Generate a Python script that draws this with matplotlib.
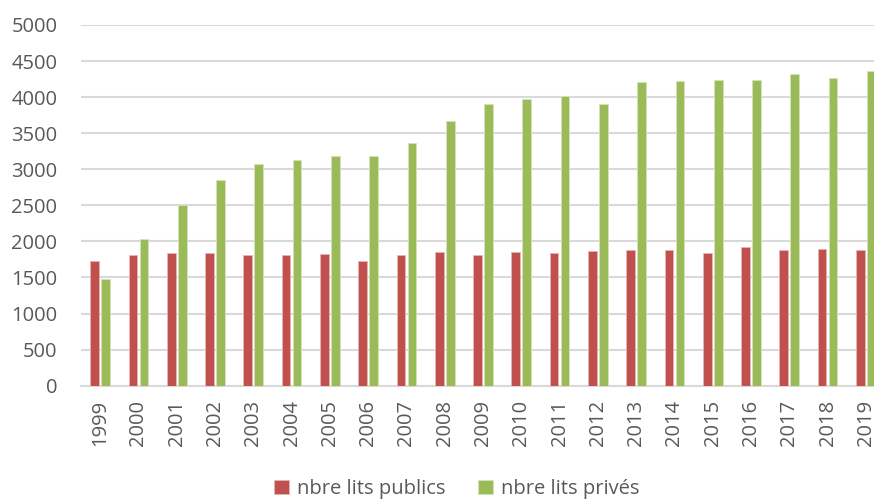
import numpy as np
import matplotlib
matplotlib.use("Agg")
import matplotlib.pyplot as plt

plt.rcParams['font.family'] = ['Open Sans', 'DejaVu Sans']

# Data
years = [str(y) for y in range(1999, 2020)]
lits_publics = [1727, 1815, 1834, 1834, 1806, 1815, 1820, 1727, 1806, 1848,
                1810, 1852, 1834, 1870, 1884, 1884, 1842, 1921, 1884, 1893, 1884]
lits_prives = [1474, 2032, 2503, 2858, 3071, 3126, 3181, 3181, 3361, 3671,
               3902, 3971, 4012, 3902, 4206, 4220, 4234, 4234, 4321, 4271, 4368]

RED = "#C0504D"
GREEN = "#9BBB59"
GRID = "#D9D9D9"
TEXT = "#595959"

W, H = 874, 500
fig = plt.figure(figsize=(W / 100, H / 100), dpi=100)
# plot area runs slightly past the right edge of the picture (like the reference)
ax = fig.add_axes([81 / W, 1 - 385.7 / H, (885 - 81) / W, (385.7 - 25) / H])

x = np.arange(len(years))
bw = 0.227
off = 0.143
ax.bar(x - off, lits_publics, bw, color=RED, edgecolor="#E8B5B4", linewidth=0.6,
       label="nbre lits publics", zorder=3)
ax.bar(x + off, lits_prives, bw, color=GREEN, edgecolor="#D4E3BA", linewidth=0.6,
       label="nbre lits privés", zorder=3)

ax.set_xlim(-0.5, len(years) - 0.5)
ax.set_ylim(0, 5000)
ax.set_yticks(range(0, 5001, 500))
ax.set_xticks(x)
ax.set_xticklabels(years, rotation=90)

ax.grid(axis="y", color=GRID, linewidth=1.5, zorder=0)
for side in ["top", "right", "left"]:
    ax.spines[side].set_visible(False)
ax.spines["bottom"].set_color(GRID)
ax.spines["bottom"].set_linewidth(1.5)
ax.tick_params(axis="both", length=0, labelsize=14.5, colors=TEXT)
ax.tick_params(axis="y", pad=17)
ax.tick_params(axis="x", pad=10)

fig.legend(loc="center", bbox_to_anchor=(457 / W, 1 - 489 / H), ncol=2,
           frameon=False, fontsize=14.5, labelcolor=TEXT,
           handlelength=0.75, handleheight=0.75, handletextpad=0.4,
           columnspacing=1.6)

fig.savefig("out.png", dpi=100)
